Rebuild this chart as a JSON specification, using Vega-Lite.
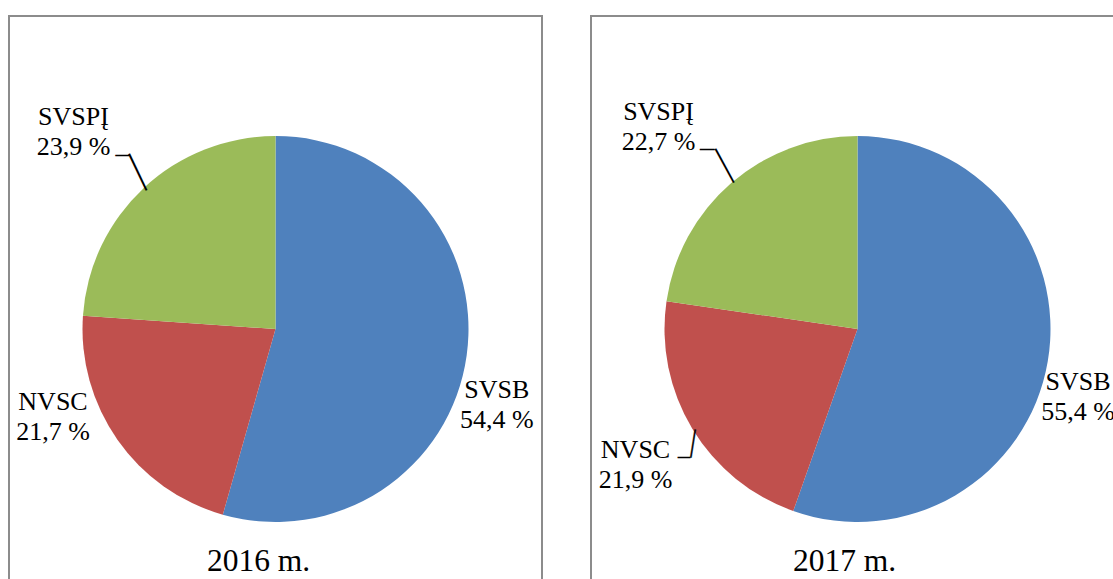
{
  "$schema": "https://vega.github.io/schema/vega-lite/v6.json",
  "background": "white",
  "padding": {"left": 8, "top": 15, "right": 0, "bottom": 0},
  "config": {
    "view": {"stroke": "#8c8c8c", "strokeWidth": 2},
    "text": {"font": "Liberation Serif", "color": "black"},
    "title": {"font": "Liberation Serif", "fontWeight": "normal", "color": "black"}
  },
  "data": {
    "values": [
      {"year": "2016 m.", "category": "SVSB", "rank": 1, "value": 54.4, "label": "SVSB\n54,4 %"},
      {"year": "2016 m.", "category": "NVSC", "rank": 2, "value": 21.7, "label": "NVSC\n21,7 %"},
      {"year": "2016 m.", "category": "SVSPĮ", "rank": 3, "value": 23.9, "label": "SVSPĮ\n23,9 %"},
      {"year": "2017 m.", "category": "SVSB", "rank": 1, "value": 55.4, "label": "SVSB\n55,4 %"},
      {"year": "2017 m.", "category": "NVSC", "rank": 2, "value": 21.9, "label": "NVSC\n21,9 %"},
      {"year": "2017 m.", "category": "SVSPĮ", "rank": 3, "value": 22.7, "label": "SVSPĮ\n22,7 %"}
    ]
  },
  "spacing": 47,
  "hconcat": [
    {
      "width": 533,
      "height": 626,
      "view": {"stroke": "#8c8c8c", "strokeWidth": 2, "fill": "white"},
      "title": {"text": "2016 m.", "orient": "bottom", "frame": "group", "anchor": "middle", "baseline": "alphabetic", "offset": -71, "dx": -17, "fontSize": 31.5},
      "transform": [{"filter": "datum.year === '2016 m.'"}],
      "encoding": {
        "theta": {"field": "value", "type": "quantitative", "stack": true},
        "order": {"field": "rank", "type": "quantitative"}
      },
      "layer": [
        {
          "mark": {"type": "arc", "outerRadius": 193},
          "encoding": {
            "color": {"field": "category", "type": "nominal", "scale": {"domain": ["SVSB", "NVSC", "SVSPĮ"], "range": ["#4F81BD", "#C0504D", "#9BBB59"]}, "legend": null}
          }
        },
        {
          "mark": {"type": "text", "radius": 193, "dx": 30.1, "dy": 42.7, "align": "center", "baseline": "alphabetic", "fontSize": 26, "lineHeight": 30, "lineBreak": "\n", "font": "Liberation Serif", "fill": "black"},
          "encoding": {"text": {"condition": {"test": "datum.category === 'SVSB'", "field": "label"}, "value": ""}}
        },
        {
          "mark": {"type": "text", "radius": 193, "dx": -64.6, "dy": -30.0, "align": "center", "baseline": "alphabetic", "fontSize": 26, "lineHeight": 30, "lineBreak": "\n", "font": "Liberation Serif", "fill": "black"},
          "encoding": {"text": {"condition": {"test": "datum.category === 'NVSC'", "field": "label"}, "value": ""}}
        },
        {
          "mark": {"type": "text", "radius": 193, "dx": -70.3, "dy": -62.4, "align": "center", "baseline": "alphabetic", "fontSize": 26, "lineHeight": 30, "lineBreak": "\n", "font": "Liberation Serif", "fill": "black"},
          "encoding": {"text": {"condition": {"test": "datum.category === 'SVSPĮ'", "field": "label"}, "value": ""}}
        },
        {
          "mark": {"type": "text", "radius": 193, "angle": 64.5, "dx": -17.0, "dy": -4.1, "align": "center", "baseline": "middle", "fontSize": 40, "font": "Liberation Serif", "fill": "black"},
          "encoding": {"text": {"condition": {"test": "datum.category === 'SVSPĮ'", "value": "—"}, "value": ""}}
        },
        {
          "mark": {"type": "text", "radius": 193, "angle": 0, "dx": -21.6, "dy": -34.2, "align": "center", "baseline": "middle", "fontSize": 13, "font": "Liberation Serif", "fill": "black", "stroke": "black", "strokeWidth": 0.8},
          "encoding": {"text": {"condition": {"test": "datum.category === 'SVSPĮ'", "value": "—"}, "value": ""}}
        }
      ]
    },
    {
      "width": 533,
      "height": 626,
      "view": {"stroke": "#8c8c8c", "strokeWidth": 2, "fill": "white"},
      "title": {"text": "2017 m.", "orient": "bottom", "frame": "group", "anchor": "middle", "baseline": "alphabetic", "offset": -71, "dx": -13, "fontSize": 31.5},
      "transform": [{"filter": "datum.year === '2017 m.'"}],
      "encoding": {
        "theta": {"field": "value", "type": "quantitative", "stack": true},
        "order": {"field": "rank", "type": "quantitative"}
      },
      "layer": [
        {
          "mark": {"type": "arc", "outerRadius": 193},
          "encoding": {
            "color": {"field": "category", "type": "nominal", "scale": {"domain": ["SVSB", "NVSC", "SVSPĮ"], "range": ["#4F81BD", "#C0504D", "#9BBB59"]}, "legend": null}
          }
        },
        {
          "mark": {"type": "text", "radius": 193, "dx": 30.3, "dy": 28.4, "align": "center", "baseline": "alphabetic", "fontSize": 26, "lineHeight": 30, "lineBreak": "\n", "font": "Liberation Serif", "fill": "black"},
          "encoding": {"text": {"condition": {"test": "datum.category === 'SVSB'", "field": "label"}, "value": ""}}
        },
        {
          "mark": {"type": "text", "radius": 193, "dx": -56.8, "dy": 29.2, "align": "center", "baseline": "alphabetic", "fontSize": 26, "lineHeight": 30, "lineBreak": "\n", "font": "Liberation Serif", "fill": "black"},
          "encoding": {"text": {"condition": {"test": "datum.category === 'NVSC'", "field": "label"}, "value": ""}}
        },
        {
          "mark": {"type": "text", "radius": 193, "dx": -72.7, "dy": -63.0, "align": "center", "baseline": "alphabetic", "fontSize": 26, "lineHeight": 30, "lineBreak": "\n", "font": "Liberation Serif", "fill": "black"},
          "encoding": {"text": {"condition": {"test": "datum.category === 'SVSPĮ'", "field": "label"}, "value": ""}}
        },
        {
          "mark": {"type": "text", "radius": 193, "angle": 61.4, "dx": -18.4, "dy": -4.5, "align": "center", "baseline": "middle", "fontSize": 38, "font": "Liberation Serif", "fill": "black"},
          "encoding": {"text": {"condition": {"test": "datum.category === 'SVSPĮ'", "value": "—"}, "value": ""}}
        },
        {
          "mark": {"type": "text", "radius": 193, "angle": 0, "dx": -23.9, "dy": -34.4, "align": "center", "baseline": "middle", "fontSize": 14, "font": "Liberation Serif", "fill": "black", "stroke": "black", "strokeWidth": 0.8},
          "encoding": {"text": {"condition": {"test": "datum.category === 'SVSPĮ'", "value": "—"}, "value": ""}}
        },
        {
          "mark": {"type": "text", "radius": 193, "angle": 99, "dx": 14.6, "dy": -4.6, "align": "center", "baseline": "middle", "fontSize": 28, "font": "Liberation Serif", "fill": "black", "stroke": "black", "strokeWidth": 0.3},
          "encoding": {"text": {"condition": {"test": "datum.category === 'NVSC'", "value": "—"}, "value": ""}}
        },
        {
          "mark": {"type": "text", "radius": 193, "angle": 0, "dx": -8.3, "dy": 27.3, "align": "center", "baseline": "middle", "fontSize": 12, "font": "Liberation Serif", "fill": "black", "stroke": "black", "strokeWidth": 0.8},
          "encoding": {"text": {"condition": {"test": "datum.category === 'NVSC'", "value": "—"}, "value": ""}}
        }
      ]
    }
  ]
}
